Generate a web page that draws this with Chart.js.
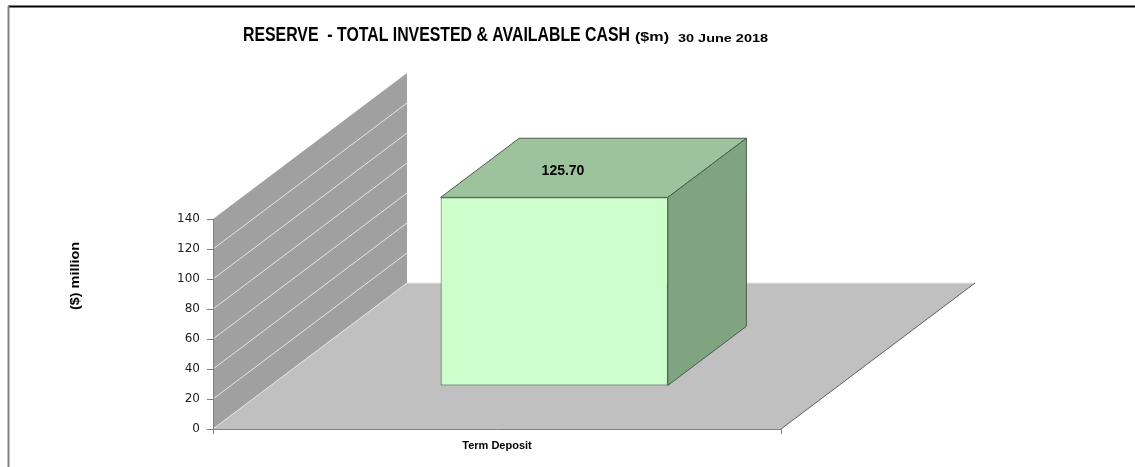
<!DOCTYPE html>
<html><head><meta charset="utf-8">
<script src="https://cdn.jsdelivr.net/npm/chart.js@4.4.0/dist/chart.umd.min.js"></script>
<style>html,body{margin:0;padding:0;background:#fff;overflow:hidden}</style>
</head><body>
<canvas id="c" width="1135" height="467" style="display:block;width:1135px;height:467px"></canvas>
<script>
// ---- data ----
const categories = ['Term Deposit'];
const values = [125.70];
const yMin = 0, yMax = 140, yStep = 20;
const titleMain = 'RESERVE  - TOTAL INVESTED & AVAILABLE CASH';
const titleUnit = '($m)';
const titleDate = '30 June 2018';
const yTitle = '($) million';

// ---- 3D styling ----
const DEPTH = {x: 194, y: -146};
const BAR_FRONT = 0.295, BAR_BACK = 0.70;

function fitText(ctx, text, x, y, font, targetW, color) {
  ctx.save();
  ctx.font = font;
  ctx.fillStyle = color || '#000';
  ctx.textAlign = 'left';
  ctx.textBaseline = 'alphabetic';
  const w = ctx.measureText(text).width;
  ctx.translate(x, y);
  ctx.scale(targetW / w, 1);
  ctx.fillText(text, 0, 0);
  ctx.restore();
}
function poly(ctx, pts, fill, stroke) {
  ctx.beginPath();
  ctx.moveTo(pts[0][0], pts[0][1]);
  for (let i = 1; i < pts.length; i++) ctx.lineTo(pts[i][0], pts[i][1]);
  ctx.closePath();
  if (fill) { ctx.fillStyle = fill; ctx.fill(); }
  if (stroke) { ctx.strokeStyle = stroke; ctx.lineWidth = 1; ctx.stroke(); }
}
function line(ctx, x1, y1, x2, y2, color, w) {
  ctx.beginPath(); ctx.moveTo(x1, y1); ctx.lineTo(x2, y2);
  ctx.strokeStyle = color; ctx.lineWidth = w || 1; ctx.stroke();
}

const threeD = {
  id: 'threeD',
  beforeDraw(chart) {
    const ctx = chart.ctx, a = chart.chartArea, ys = chart.scales.y;
    ctx.save();
    ctx.fillStyle = '#fff'; ctx.fillRect(0, 0, chart.width, chart.height);
    // outer frame
    line(ctx, 8, 6.5, chart.width, 6.5, '#000', 2);
    line(ctx, 8.5, 6, 8.5, chart.height, '#808080', 2);
    const L = a.left, R = a.right;
    const B = ys.getPixelForValue(yMin), T = ys.getPixelForValue(yMax);
    const dx = DEPTH.x, dy = DEPTH.y;
    // side wall
    poly(ctx, [[L, B], [L, T], [L + dx, T + dy], [L + dx, B + dy]], '#a0a0a0');
    // floor
    poly(ctx, [[L, B], [R, B], [R + dx, B + dy], [L + dx, B + dy]], '#c0c0c0');
    // wall gridlines
    for (let v = yMin + yStep; v < yMax; v += yStep) {
      const y = ys.getPixelForValue(v);
      line(ctx, L, y, L + dx, y + dy, '#e4e4e4', 1);
    }
    line(ctx, L, B, L + dx, B + dy, '#e4e4e4', 1);
    line(ctx, L + dx, B + dy, R + dx, B + dy, '#e8e8e8', 1);
    line(ctx, R, B, R + dx, B + dy, '#606060', 1);
    ctx.restore();
  },
  beforeDatasetDraw(chart) {
    chart.ctx.save();
    chart.ctx.translate(DEPTH.x * BAR_FRONT, DEPTH.y * BAR_FRONT);
  },
  afterDatasetDraw(chart) {
    chart.ctx.restore();
  },
  afterDatasetsDraw(chart) {
    const ctx = chart.ctx;
    const meta = chart.getDatasetMeta(0);
    const dx1 = DEPTH.x * BAR_FRONT, dy1 = DEPTH.y * BAR_FRONT;
    const dx2 = DEPTH.x * BAR_BACK, dy2 = DEPTH.y * BAR_BACK;
    ctx.save();
    meta.data.forEach((el, i) => {
      const p = el.getProps(['x', 'y', 'base', 'width'], true);
      const l = p.x - p.width / 2, r = p.x + p.width / 2, t = p.y, b = p.base;
      const edge = '#4d5e4d';
      poly(ctx, [[l + dx1, t + dy1], [r + dx1, t + dy1], [r + dx2, t + dy2], [l + dx2, t + dy2]], '#9cc39c', edge);
      poly(ctx, [[r + dx1, t + dy1], [r + dx2, t + dy2], [r + dx2, b + dy2], [r + dx1, b + dy1]], '#80a380', edge);
      // value label
      ctx.font = 'bold 14px "Liberation Sans", Arial, sans-serif';
      ctx.fillStyle = '#000';
      ctx.textAlign = 'center';
      ctx.textBaseline = 'alphabetic';
      ctx.fillText(values[i].toFixed(2), p.x + 66, t - 65);
    });
    ctx.restore();
  },
  afterDraw(chart) {
    const ctx = chart.ctx;
    fitText(ctx, titleMain, 243, 41, 'bold 19.5px "Liberation Sans", Arial, sans-serif', 387);
    fitText(ctx, titleUnit, 635, 41, 'bold 12px "Liberation Sans", Arial, sans-serif', 34);
    fitText(ctx, titleDate, 678, 41.5, 'bold 11px "Liberation Sans", Arial, sans-serif', 90);
    // y axis title (rotated)
    ctx.save();
    ctx.font = 'bold 12px "Liberation Sans", Arial, sans-serif';
    const w = ctx.measureText(yTitle).width;
    ctx.translate(79, 276);
    ctx.rotate(-Math.PI / 2);
    ctx.scale(68 / w, 1);
    ctx.fillStyle = '#000';
    ctx.textAlign = 'center';
    ctx.textBaseline = 'alphabetic';
    ctx.fillText(yTitle, 0, 0);
    ctx.restore();
  }
};

new Chart(document.getElementById('c'), {
  type: 'bar',
  data: {
    labels: categories,
    datasets: [{
      data: values,
      backgroundColor: '#ccffcc',
      borderColor: '#4d5e4d',
      borderWidth: 1,
      borderSkipped: false,
      barPercentage: 0.4,
      categoryPercentage: 1.0,
      clip: false
    }]
  },
  options: {
    responsive: false,
    animation: false,
    devicePixelRatio: 1,
    layout: {padding: {left: 20, right: 354, top: 219, bottom: 8}},
    plugins: {legend: {display: false}, tooltip: {enabled: false}, title: {display: false}},
    scales: {
      x: {
        afterFit(s) { s.height = 30; },
        grid: {drawOnChartArea: false, drawTicks: true, tickLength: 5, color: '#808080', offset: true},
        border: {display: true, color: '#808080', width: 1},
        ticks: {color: '#000', padding: 5, font: {family: '"Liberation Sans Narrow", "Liberation Sans", Arial', size: 11, weight: 'bold'}}
      },
      y: {
        min: yMin, max: yMax,
        afterFit(s) { s.width = 193; },
        grid: {drawOnChartArea: false, drawTicks: true, tickLength: 6, color: '#808080'},
        border: {display: true, color: '#808080', width: 1},
        ticks: {stepSize: yStep, color: '#222', padding: 7, font: {family: '"DejaVu Sans", sans-serif', size: 12}}
      }
    }
  },
  plugins: [threeD]
});
</script>
</body></html>
